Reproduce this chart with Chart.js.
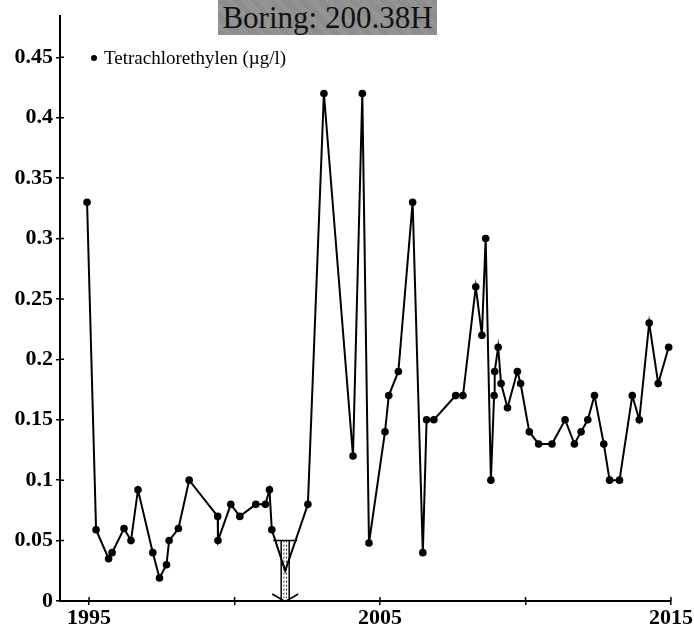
<!DOCTYPE html>
<html>
<head>
<meta charset="utf-8">
<script src="https://cdn.jsdelivr.net/npm/chart.js@4/dist/chart.umd.min.js"></script>
<style>
    body { margin: 0; background: #fff; }
    #wrap { position: relative; width: 694px; height: 628px; }
    #title {
        position: absolute; left: 218px; top: 0; width: 219px; height: 35px;
        background-color: #9a9a9a;
        background-image: repeating-linear-gradient(45deg, rgba(0,0,0,0.12) 0 1px, transparent 1px 2px);
        font-family: "Liberation Serif", serif; font-size: 31px; line-height: 35px;
        text-align: center; color: #111; white-space: nowrap;
    }
    #legend {
        position: absolute; left: 91px; top: 47px; line-height: 22px;
        font-family: "Liberation Serif", serif; font-size: 19px; color: #000; white-space: nowrap;
    }
    #legend .dot {
        display: inline-block; width: 6px; height: 6px; border-radius: 50%;
        background: #000; margin-right: 7px; vertical-align: middle; position: relative; top: -2px;
    }
</style>
</head>
<body>
<div id="wrap">
    <canvas id="chart" width="694" height="628"></canvas>
    <div id="title">Boring: 200.38H</div>
    <div id="legend"><span class="dot"></span>Tetrachlorethylen (µg/l)</div>
</div>
<script>
// Measurements (year as decimal, value in µg/l)
const years = [
    1994.93, 1995.24, 1995.67, 1995.79, 1996.2, 1996.44, 1996.68, 1997.19, 1997.42, 1997.66,
    1997.75, 1998.07, 1998.44, 1999.42, 1999.43, 1999.87, 2000.18, 2000.73, 2001.06, 2001.2,
    2001.28, 2001.74, 2002.52, 2003.07, 2004.07, 2004.39, 2004.62, 2005.17, 2005.3, 2005.63,
    2006.12, 2006.47, 2006.6, 2006.85, 2007.6, 2007.85, 2008.29, 2008.5, 2008.63, 2008.81,
    2008.92, 2008.94, 2009.06, 2009.16, 2009.38, 2009.72, 2009.83, 2010.13, 2010.45, 2010.91,
    2011.36, 2011.68, 2011.91, 2012.14, 2012.37, 2012.69, 2012.89, 2013.23, 2013.67, 2013.91,
    2014.25, 2014.56, 2014.92
];
const values = [
    0.33, 0.059, 0.035, 0.04, 0.06, 0.05, 0.092, 0.04, 0.019, 0.03,
    0.05, 0.06, 0.10, 0.07, 0.05, 0.08, 0.07, 0.08, 0.08, 0.092,
    0.059, 0.025, 0.08, 0.42, 0.12, 0.42, 0.048, 0.14, 0.17, 0.19,
    0.33, 0.04, 0.15, 0.15, 0.17, 0.17, 0.26, 0.22, 0.30, 0.10,
    0.17, 0.19, 0.21, 0.18, 0.16, 0.19, 0.18, 0.14, 0.13, 0.13,
    0.15, 0.13, 0.14, 0.15, 0.17, 0.13, 0.10, 0.10, 0.17, 0.15,
    0.23, 0.18, 0.21
];
// below-detection-limit sample
const limitYear = 2001.74;
const limitValue = 0.05;

const xTicks = [1995, 2000, 2005, 2010, 2015];
const xLabels = [1995, 2005, 2015];
const yTicks = [0, 0.05, 0.1, 0.15, 0.2, 0.25, 0.3, 0.35, 0.4, 0.45];

const points = years.map((y, i) => ({ x: y, y: values[i] }));
const radii = years.map(y => (y === limitYear ? 0 : 3.8));

// inner half of the crossing tick marks + the "<" detection limit symbol
const extrasPlugin = {
    id: 'extras',
    afterDraw(chart) {
        const ctx = chart.ctx;
        const xs = chart.scales.x, ys = chart.scales.y;
        const area = chart.chartArea;
        ctx.save();
        ctx.strokeStyle = '#000';
        ctx.lineWidth = 1.5;
        ctx.beginPath();
        yTicks.forEach(v => {
            const p = ys.getPixelForValue(v);
            ctx.moveTo(area.left, p);
            ctx.lineTo(area.left + 4, p);
        });
        xTicks.forEach(v => {
            const p = xs.getPixelForValue(v);
            ctx.moveTo(p, area.bottom);
            ctx.lineTo(p, area.bottom - 4);
        });
        ctx.stroke();

        const cx = xs.getPixelForValue(limitYear);
        const top = ys.getPixelForValue(limitValue);
        const bot = ys.getPixelForValue(0);
        ctx.lineWidth = 1.5;
        ctx.beginPath();
        ctx.moveTo(cx - 12, top); ctx.lineTo(cx + 12, top);
        ctx.moveTo(cx - 4, top); ctx.lineTo(cx - 4, bot - 1);
        ctx.moveTo(cx + 4, top); ctx.lineTo(cx + 4, bot - 1);
        ctx.moveTo(cx - 13, bot - 7); ctx.lineTo(cx - 1, bot);
        ctx.moveTo(cx + 13, bot - 7); ctx.lineTo(cx + 1, bot);
        ctx.stroke();
        ctx.lineWidth = 0.8;
        ctx.setLineDash([2, 2]);
        ctx.beginPath();
        ctx.moveTo(cx - 1.3, top); ctx.lineTo(cx - 1.3, bot - 3);
        ctx.moveTo(cx + 1.3, top); ctx.lineTo(cx + 1.3, bot - 3);
        ctx.stroke();
        ctx.restore();
    }
};

const tickFont = { family: 'Liberation Serif', size: 22, weight: 'bold' };

new Chart(document.getElementById('chart'), {
    type: 'line',
    data: {
        datasets: [{
            label: 'Tetrachlorethylen (µg/l)',
            data: points,
            borderColor: '#000',
            backgroundColor: '#000',
            borderWidth: 2,
            pointRadius: radii,
            pointBackgroundColor: '#000',
            pointBorderWidth: 0,
            tension: 0,
            clip: false
        }]
    },
    options: {
        responsive: false,
        animation: false,
        layout: { padding: { top: 15, right: 23, left: 0, bottom: 0 } },
        plugins: {
            legend: { display: false },
            title: { display: false },
            tooltip: { enabled: false }
        },
        scales: {
            x: {
                type: 'linear',
                min: 1994,
                max: 2015,
                afterBuildTicks: scale => { scale.ticks = xTicks.map(v => ({ value: v })); },
                afterFit: scale => { scale.height = 27; },
                grid: { drawOnChartArea: false, drawTicks: true, tickLength: 4, color: '#000', lineWidth: 1.5 },
                border: { color: '#000', width: 2 },
                ticks: {
                    color: '#000',
                    font: tickFont,
                    padding: 0,
                    maxRotation: 0,
                    autoSkip: false,
                    callback: v => (xLabels.includes(v) ? String(v) : '')
                }
            },
            y: {
                min: 0,
                max: 0.484,
                afterBuildTicks: scale => { scale.ticks = yTicks.map(v => ({ value: v })); },
                afterFit: scale => { scale.width = 60; },
                grid: { drawOnChartArea: false, drawTicks: true, tickLength: 4, color: '#000', lineWidth: 1.5 },
                border: { color: '#000', width: 2 },
                ticks: {
                    color: '#000',
                    font: tickFont,
                    padding: 3,
                    callback: v => String(+v.toFixed(2))
                }
            }
        }
    },
    plugins: [extrasPlugin]
});
</script>
</body>
</html>
